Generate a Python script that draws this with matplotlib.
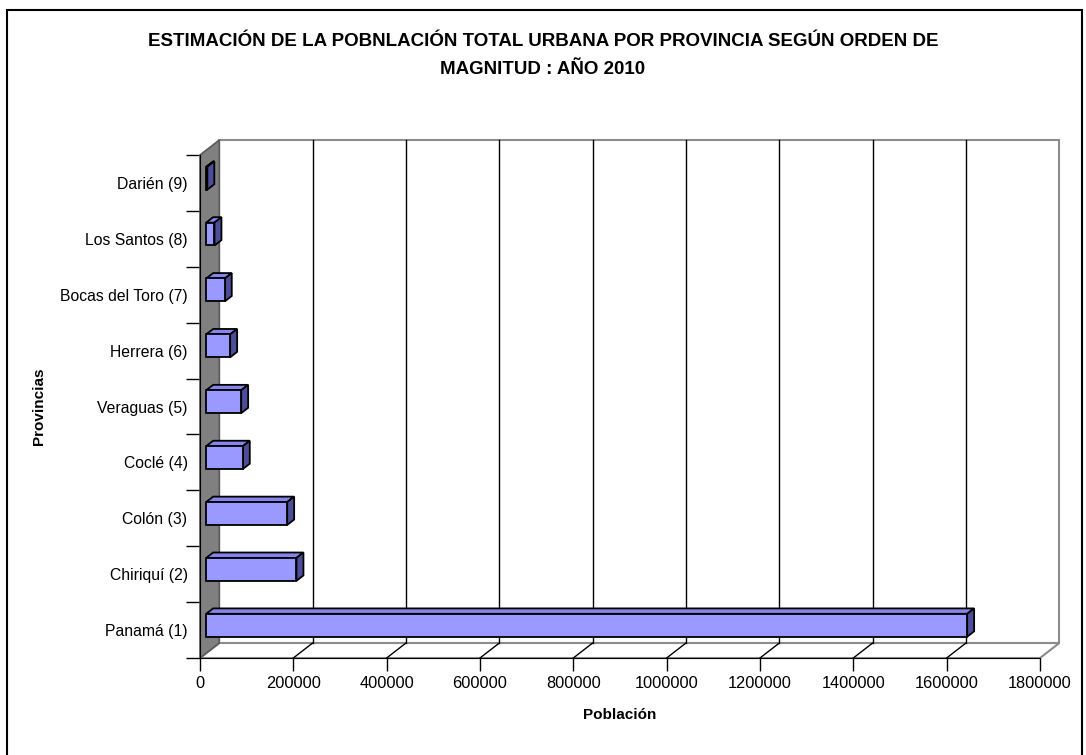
import numpy as np
import matplotlib.pyplot as plt
from matplotlib.patches import Polygon, Rectangle

plt.rcParams["font.family"] = ["Liberation Sans", "DejaVu Sans"]

provincias = ["Panamá (1)", "Chiriquí (2)", "Colón (3)", "Coclé (4)", "Veraguas (5)",
              "Herrera (6)", "Bocas del Toro (7)", "Los Santos (8)", "Darién (9)"]
poblacion = [1630700, 193500, 173600, 78500, 75000, 51400, 39900, 17800, 2500]
x_ticks = list(range(0, 1800001, 200000))

XMAX = 1800000
DX = 41400      # depth offset in data units (x)
DY = 0.268      # depth offset in category units (y)
D0, D1 = 0.32, 0.68
HH = 0.205

FRONT = "#9999ff"
TOP = "#8585ea"
SIDE = "#4d4d99"

fig = plt.figure(figsize=(10.86, 7.55), dpi=100)
W, H = 1086, 755
ax = fig.add_axes([200 / W, (H - 658) / H, 840 / W, 503 / H])
ax.set_xlim(0, XMAX)
ax.set_ylim(-0.5, len(provincias) - 0.5)
ytop = len(provincias) - 0.5

# back wall
ax.add_patch(Polygon([(DX, -0.5 + DY), (XMAX + DX, -0.5 + DY), (XMAX + DX, ytop + DY), (DX, ytop + DY)],
                     closed=True, facecolor="white", edgecolor="#8c8c8c", lw=1.5, clip_on=False, zorder=1))
# floor
ax.add_patch(Polygon([(0, -0.5), (XMAX, -0.5), (XMAX + DX, -0.5 + DY), (DX, -0.5 + DY)],
                     closed=True, facecolor="white", edgecolor="#8c8c8c", lw=1.5, clip_on=False, zorder=1))
# gridlines on back wall and floor
for t in x_ticks[1:-1]:
    ax.plot([t + DX, t + DX], [-0.5 + DY, ytop + DY], color="black", lw=1, clip_on=False, zorder=2)
    ax.plot([t, t + DX], [-0.5, -0.5 + DY], color="black", lw=1, clip_on=False, zorder=2)
# left side wall
ax.add_patch(Polygon([(0, -0.5), (DX, -0.5 + DY), (DX, ytop + DY), (0, ytop)],
                     closed=True, facecolor="#808080", edgecolor="#5a5a5a", lw=1.2, clip_on=False, zorder=3))

# bars
for i, v in enumerate(poblacion):
    x0, x1 = D0 * DX, D1 * DX
    y0, y1 = i - HH + D0 * DY, i + HH + D0 * DY
    ax.add_patch(Polygon([(x0, y1), (v + x0, y1), (v + x1, y1 + (D1 - D0) * DY), (x1, y1 + (D1 - D0) * DY)],
                         closed=True, facecolor=TOP, edgecolor="black", lw=1.3, clip_on=False, zorder=4))
    ax.add_patch(Polygon([(v + x0, y0), (v + x1, y0 + (D1 - D0) * DY), (v + x1, y1 + (D1 - D0) * DY), (v + x0, y1)],
                         closed=True, facecolor=SIDE, edgecolor="black", lw=1.3, clip_on=False, zorder=4))
    ax.add_patch(Rectangle((x0, y0), v, y1 - y0, facecolor=FRONT, edgecolor="black", lw=1.3,
                           clip_on=False, zorder=5))

for s in ["top", "right"]:
    ax.spines[s].set_visible(False)
ax.spines["left"].set_color("black")
ax.spines["bottom"].set_color("black")
ax.spines["left"].set_zorder(6)
ax.patch.set_visible(False)

ax.set_xticks(x_ticks)
ax.set_xticklabels([str(t) for t in x_ticks], fontsize=11.8)
ax.set_yticks(np.arange(-0.5, len(provincias), 1.0))
ax.set_yticklabels([])
ax.set_yticks(np.arange(len(provincias)), minor=True)
ax.set_yticklabels(provincias, minor=True, fontsize=11.3)
ax.tick_params(axis="y", which="minor", length=0, pad=9)
ax.tick_params(axis="y", which="major", length=10, width=1, direction="out")
ax.tick_params(axis="x", length=9, width=1, direction="out", pad=4)

ax.set_xlabel("Población", fontsize=11, fontweight="bold", labelpad=12)
ax.set_ylabel("Provincias", fontsize=11, fontweight="bold", labelpad=10)

fig.text(0.5, 1 - 42 / H, "ESTIMACIÓN DE LA POBNLACIÓN TOTAL URBANA POR PROVINCIA SEGÚN ORDEN DE",
         ha="center", va="center", fontsize=13.5, fontweight="bold")
fig.text(0.5, 1 - 70 / H, "MAGNITUD : AÑO 2010", ha="center", va="center", fontsize=13.5, fontweight="bold")

fig.add_artist(Rectangle((7 / W, -10 / H), 1075 / W, 755 / H, transform=fig.transFigure,
                         fill=False, edgecolor="black", lw=1.5))

fig.savefig("out.png", dpi=100)
